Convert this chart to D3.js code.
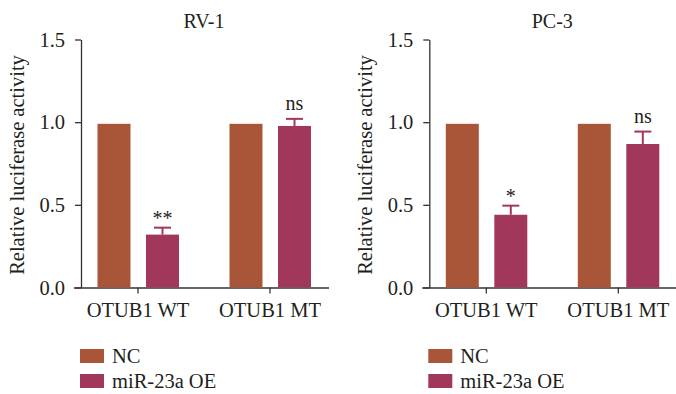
<!DOCTYPE html>
<html>
<head>
<meta charset="utf-8">
<script src="https://cdn.jsdelivr.net/npm/d3@7"></script>
<style>
  html, body { margin: 0; padding: 0; background: #fff; }
  svg { display: block; }
  text { font-family: "Liberation Serif", "DejaVu Serif", serif; fill: #231f20; }
</style>
</head>
<body>
<svg id="chart" width="676" height="394"></svg>
<script>
// Luciferase reporter data for two prostate cancer cell lines
const cellLines = ["RV-1", "PC-3"];
const constructs = ["OTUB1 WT", "OTUB1 MT"];
const groups = ["NC", "miR-23a OE"];

// mean values per cell line: [construct][group]
const rv1Means = [[0.99, 0.32], [0.99, 0.977]];
const pc3Means = [[0.99, 0.44], [0.99, 0.868]];
// upper error (SD) for the miR-23a OE bars
const rv1Errors = [[0, 0.042], [0, 0.043]];
const pc3Errors = [[0, 0.055], [0, 0.075]];
// significance marks above the miR-23a OE bars
const rv1Marks = ["**", "ns"];
const pc3Marks = ["*", "ns"];

const yTicks = [0.0, 0.5, 1.0, 1.5];
const colors = ["#a95538", "#a2375c"];

const panels = [
  { title: cellLines[0], means: rv1Means, errors: rv1Errors, marks: rv1Marks, dx: 0 },
  { title: cellLines[1], means: pc3Means, errors: pc3Errors, marks: pc3Marks, dx: 348.3 }
];

const svg = d3.select("#chart");
const axisX = 81;
const y = d3.scaleLinear().domain([0, 1.5]).range([287.5, 39.5]);
const x0 = d3.scaleBand().domain(constructs).range([72, 336]).paddingInner(0).paddingOuter(0);
const x1 = d3.scaleBand().domain(groups).range([25.5, 107]).paddingInner(0.32).paddingOuter(0);
const color = d3.scaleOrdinal().domain(groups).range(colors);

panels.forEach(p => {
  const g = svg.append("g").attr("transform", `translate(${p.dx},0)`);

  // title
  g.append("text")
    .attr("x", 204).attr("y", 28)
    .attr("text-anchor", "middle")
    .style("font-size", "20px")
    .text(p.title);

  // y axis label
  g.append("text")
    .attr("transform", `translate(24,165) rotate(-90)`)
    .attr("text-anchor", "middle")
    .style("font-size", "20.5px")
    .text("Relative luciferase activity");

  // y axis
  const yAxis = g.append("g")
    .attr("transform", `translate(${axisX},0)`)
    .call(d3.axisLeft(y).tickValues(yTicks).tickFormat(d3.format(".1f")).tickSize(6).tickPadding(10).tickSizeOuter(0));
  yAxis.select(".domain").attr("stroke", "#333").attr("stroke-width", 1.3);
  yAxis.selectAll(".tick line").attr("stroke", "#333").attr("stroke-width", 1.3);
  yAxis.selectAll(".tick text")
    .style("font-family", "Liberation Serif, serif")
    .style("font-size", "20.5px").attr("fill", "#231f20");

  // x axis
  const xAxis = g.append("g")
    .attr("transform", `translate(0,${y(0)})`)
    .call(d3.axisBottom(x0).tickSize(6).tickPadding(9).tickSizeOuter(0));
  xAxis.select(".domain").attr("d", `M${axisX - 7},0.5H329`).attr("stroke", "#333").attr("stroke-width", 1.3);
  xAxis.selectAll(".tick line").attr("stroke", "#333").attr("stroke-width", 1.3);
  xAxis.selectAll(".tick text")
    .style("font-family", "Liberation Serif, serif")
    .style("font-size", "20.5px").attr("fill", "#231f20");

  // bars
  const rows = constructs.map((c, i) => ({
    construct: c,
    values: groups.map((grp, j) => ({ group: grp, value: p.means[i][j], err: p.errors[i][j] }))
  }));

  const grp = g.selectAll("g.construct").data(rows).join("g")
    .attr("class", "construct")
    .attr("transform", d => `translate(${x0(d.construct)},0)`);

  grp.selectAll("rect").data(d => d.values).join("rect")
    .attr("x", d => x1(d.group))
    .attr("width", x1.bandwidth())
    .attr("y", d => y(d.value))
    .attr("height", d => y(0) - y(d.value))
    .attr("fill", d => color(d.group));

  // error bars (upper only)
  const eb = grp.selectAll("g.err").data(d => d.values.filter(v => v.err > 0)).join("g").attr("class", "err");
  eb.append("line")
    .attr("x1", d => x1(d.group) + x1.bandwidth() / 2)
    .attr("x2", d => x1(d.group) + x1.bandwidth() / 2)
    .attr("y1", d => y(d.value))
    .attr("y2", d => y(d.value + d.err))
    .attr("stroke", d => color(d.group)).attr("stroke-width", 2);
  eb.append("line")
    .attr("x1", d => x1(d.group) + x1.bandwidth() / 2 - 8.5)
    .attr("x2", d => x1(d.group) + x1.bandwidth() / 2 + 8.5)
    .attr("y1", d => y(d.value + d.err))
    .attr("y2", d => y(d.value + d.err))
    .attr("stroke", d => color(d.group)).attr("stroke-width", 2);

  // significance labels
  grp.append("text")
    .attr("x", x1(groups[1]) + x1.bandwidth() / 2)
    .attr("y", (d, i) => {
      const v = d.values[1];
      return y(v.value + v.err) - (p.marks[i] === "ns" ? 9 : 3);
    })
    .attr("text-anchor", "middle")
    .style("font-size", "20px")
    .text((d, i) => p.marks[i]);

  // legend
  const lg = g.append("g").attr("transform", `translate(${axisX - 1},349)`);
  const item = lg.selectAll("g").data(groups).join("g")
    .attr("transform", (d, i) => `translate(0,${i * 25})`);
  item.append("rect").attr("width", 24).attr("height", 14).attr("fill", d => color(d));
  item.append("text").attr("x", 32).attr("y", 14).style("font-size", "20.5px").text(d => d);
});
</script>
</body>
</html>
